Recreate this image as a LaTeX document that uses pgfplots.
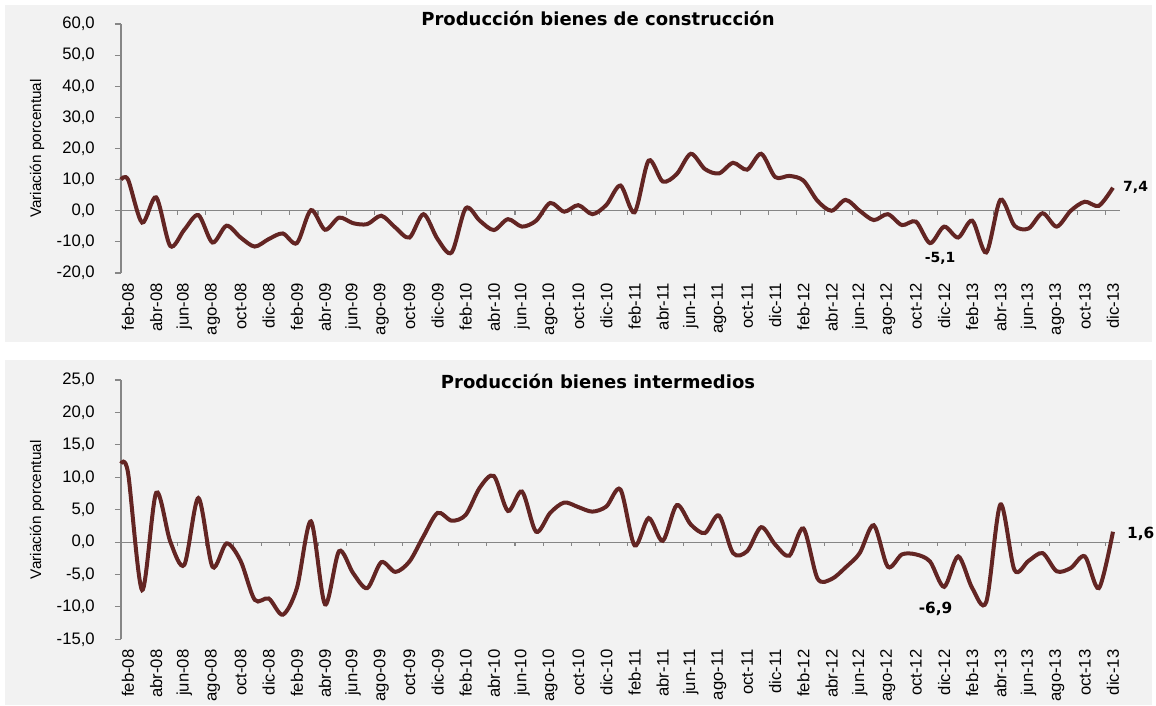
\documentclass[border=0pt]{standalone}
\usepackage{fontspec}
\setmainfont{Liberation Sans}
\newfontfamily\titlefont{DejaVu Sans}
\usepackage{pgfplots}
\usepackage{pgfplotstable}
\pgfplotsset{compat=1.18}

\definecolor{linea}{HTML}{632523}
\definecolor{panel}{HTML}{F2F2F2}
\definecolor{eje}{HTML}{868686}

% x = month index + 0.5 (feb-08 = 0.5 ... dic-13 = 70.5)
\pgfplotstableread{
x v
0 10.0
0.5 10.0
1.5 -3.8
2.5 4.3
3.5 -11.3
4.5 -6.1
5.5 -1.4
6.5 -10.2
7.5 -4.8
8.5 -8.6
9.5 -11.5
10.5 -9.1
11.5 -7.3
12.5 -10.4
13.5 0.2
14.5 -6.1
15.5 -2.2
16.5 -4.0
17.5 -4.3
18.5 -1.6
19.5 -5.4
20.5 -8.6
21.5 -1.1
22.5 -9.1
23.5 -13.4
24.5 0.8
25.5 -3.2
26.5 -6.2
27.5 -2.7
28.5 -5.1
29.5 -3.2
30.5 2.5
31.5 -0.3
32.5 1.8
33.5 -1.1
34.5 1.9
35.5 8.1
36.5 -0.5
37.5 16.1
38.5 9.4
39.5 11.8
40.5 18.3
41.5 13.4
42.5 12.0
43.5 15.4
44.5 13.2
45.5 18.3
46.5 10.8
47.5 11.2
48.5 9.7
49.5 3.2
50.5 0.0
51.5 3.5
52.5 0.0
53.5 -3.0
54.5 -1.1
55.5 -4.6
56.5 -3.5
57.5 -10.4
58.5 -5.1
59.5 -8.6
60.5 -3.2
61.5 -13.4
62.5 3.5
63.5 -4.8
64.5 -5.7
65.5 -0.8
66.5 -5.1
67.5 0.0
68.5 2.9
69.5 1.6
70.5 7.4
}\construccion

\pgfplotstableread{
x v
0 12.1
0.5 10.7
1.5 -7.4
2.5 7.6
3.5 0.1
4.5 -3.5
5.5 6.8
6.5 -3.8
7.5 -0.2
8.5 -2.9
9.5 -8.9
10.5 -8.7
11.5 -11.2
12.5 -7.1
13.5 3.2
14.5 -9.6
15.5 -1.4
16.5 -4.8
17.5 -7.1
18.5 -3.1
19.5 -4.6
20.5 -3.0
21.5 0.9
22.5 4.5
23.5 3.3
24.5 4.2
25.5 8.4
26.5 10.2
27.5 4.8
28.5 7.8
29.5 1.6
30.5 4.5
31.5 6.1
32.5 5.4
33.5 4.7
34.5 5.5
35.5 8.1
36.5 -0.5
37.5 3.7
38.5 0.2
39.5 5.7
40.5 2.7
41.5 1.4
42.5 4.1
43.5 -1.7
44.5 -1.4
45.5 2.3
46.5 -0.4
47.5 -2.1
48.5 2.1
49.5 -5.6
50.5 -5.7
51.5 -3.9
52.5 -1.7
53.5 2.6
54.5 -3.8
55.5 -1.9
56.5 -1.9
57.5 -3.0
58.5 -6.9
59.5 -2.2
60.5 -7.1
61.5 -9.2
62.5 5.8
63.5 -4.3
64.5 -2.9
65.5 -1.7
66.5 -4.5
67.5 -4.0
68.5 -2.2
69.5 -7.1
70.5 1.6
}\intermedios

\pgfplotsset{
  panelaxis/.style={
    scale only axis,
    width=749.25pt,
    anchor=south west,
    clip=false,
    xmin=0, xmax=71,
    axis y line*=left,
    axis x line*=bottom,
    x axis line style={draw=none},
    y axis line style={eje, line width=0.8pt},
    xtick={0.5,2.5,...,70.5},
    xticklabels={feb-08,abr-08,jun-08,ago-08,oct-08,dic-08,
                 feb-09,abr-09,jun-09,ago-09,oct-09,dic-09,
                 feb-10,abr-10,jun-10,ago-10,oct-10,dic-10,
                 feb-11,abr-11,jun-11,ago-11,oct-11,dic-11,
                 feb-12,abr-12,jun-12,ago-12,oct-12,dic-12,
                 feb-13,abr-13,jun-13,ago-13,oct-13,dic-13},
    major x tick style={draw=none},
    xticklabel style={rotate=90, anchor=east, inner sep=0pt,
      font=\fontsize{12.5pt}{15pt}\selectfont},
    xticklabel shift=3pt,
    tick align=outside,
    major y tick style={eje, line width=0.8pt},
    major tick length=4.5pt,
    yticklabel style={anchor=east, inner sep=0pt,
      font=\fontsize{12.5pt}{14pt}\selectfont},
    yticklabel shift=15pt,
    /pgf/number format/.cd, fixed, fixed zerofill, precision=1, use comma,
      assume math mode=true,
    /pgfplots/.cd,
    ylabel={Variación porcentual},
    ylabel style={at={(axis description cs:-0.084,0.5)}, anchor=center,
      font=\fontsize{11.5pt}{13pt}\selectfont},
  }
}

\begin{document}
\begin{tikzpicture}
\useasboundingbox (0,0) rectangle (867pt,-529.5pt);
\fill[white] (0,0) rectangle (867pt,-529.5pt);
\fill[panel] (3.75pt,-3.75pt) rectangle (864pt,-256.5pt);
\fill[panel] (3.75pt,-270pt) rectangle (864pt,-528.75pt);

\begin{axis}[panelaxis, at={(90.75pt,-204.75pt)}, height=186.75pt,
  ymin=-20, ymax=60, ytick={-20,-10,...,60}]
\draw[eje, line width=0.8pt] (axis cs:0,0) -- (axis cs:71,0);
\pgfplotsinvokeforeach{0,2,...,70}{\draw[eje, line width=0.8pt] (axis cs:#1,0) -- ([yshift=-3pt]axis cs:#1,0);}
\addplot[linea, line width=3pt, smooth, tension=0.5] table[x=x, y=v] {\construccion};
\node[anchor=west, inner sep=0pt, xshift=7.5pt,
  font=\titlefont\bfseries\fontsize{10.5pt}{12pt}\selectfont] at (axis cs:70.5,7.4) {7,4};
\node[anchor=north, inner sep=0pt, yshift=-19pt, xshift=-3pt,
  font=\titlefont\bfseries\fontsize{10.5pt}{12pt}\selectfont] at (axis cs:58.5,-5.1) {-5,1};
\end{axis}

\begin{axis}[panelaxis, at={(90.75pt,-479.5pt)}, height=194.5pt,
  ymin=-15, ymax=25, ytick={-15,-10,...,25}]
\draw[eje, line width=0.8pt] (axis cs:0,0) -- (axis cs:71,0);
\pgfplotsinvokeforeach{0,2,...,70}{\draw[eje, line width=0.8pt] (axis cs:#1,0) -- ([yshift=-3pt]axis cs:#1,0);}
\addplot[linea, line width=3pt, smooth, tension=0.5] table[x=x, y=v] {\intermedios};
\node[anchor=west, inner sep=0pt, xshift=10.5pt, yshift=-1.5pt,
  font=\titlefont\bfseries\fontsize{11.5pt}{13pt}\selectfont] at (axis cs:70.5,1.6) {1,6};
\node[anchor=north, inner sep=0pt, yshift=-11pt, xshift=-6.4pt,
  font=\titlefont\bfseries\fontsize{11.5pt}{13pt}\selectfont] at (axis cs:58.5,-6.9) {-6,9};
\end{axis}

\node[font=\titlefont\bfseries\fontsize{13.5pt}{16pt}\selectfont] at (448.5pt,-13.5pt) {Producción bienes de construcción};
\node[font=\titlefont\bfseries\fontsize{13.5pt}{16pt}\selectfont] at (448.5pt,-285.75pt) {Producción bienes intermedios};
\end{tikzpicture}
\end{document}
